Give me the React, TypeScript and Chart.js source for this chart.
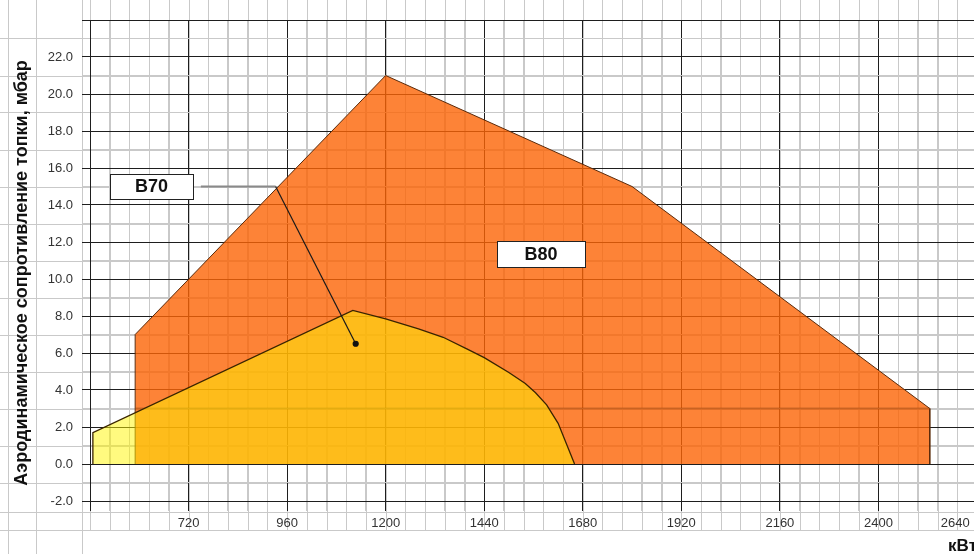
import React, { useEffect, useRef } from "react";
import { Chart, registerables } from "chart.js";

Chart.register(...registerables);

// ---- data (kW on x, mbar on y) ----
const b80X = [590, 590, 1200, 1800, 2525, 2525];
const b80Y = [0, 7.0, 21.0, 15.0, 3.0, 0];

const b70X = [487, 487, 1120, 1200, 1280, 1340, 1400, 1440, 1500, 1540, 1565, 1592, 1620, 1660];
const b70Y = [0, 1.7, 8.3, 7.85, 7.3, 6.85, 6.2, 5.75, 4.95, 4.35, 3.85, 3.2, 2.2, 0];

const minLineX = [590, 2525];
const minLineY = [3.0, 3.0];

const leaderX = [750, 932];
const leaderY = [15.0, 15.0];
const pointerX = [932, 1127];
const pointerY = [15.0, 6.5];

const labelTexts = ["B70", "B80"];
const labelX = [630, 1578];
const labelY = [15.0, 11.35];

const xMin = 480;
const xMax = 2640;
const xMinorStep = 48;
const xMajorStep = 240;
const yMin = -2;
const yMax = 24;
const yStep = 1;

const yTitle = "Аэродинамическое сопротивление топки, мбар";
const xTitle = "кВт";

// ---- styles ----
const DARK = "#1e1e1e";
const LIGHT = "#c9c9c9";
const FONT = "'Liberation Sans', Arial, sans-serif";
const BOX_W = [83, 88];
const BOX_H = [25, 26];

const pts = (xs: number[], ys: number[]) => xs.map((x, i) => ({ x, y: ys[i] }));
const isMajorX = (v: number) => Math.abs(v % xMajorStep) < 1e-6;

const paperPlugin = {
  id: "paper",
  beforeDraw(chart: any) {
    const { ctx, chartArea: a, scales, width, height } = chart;
    const x = scales.x;
    const y = scales.y;
    ctx.save();
    ctx.fillStyle = "#ffffff";
    ctx.fillRect(0, 0, width, height);
    ctx.strokeStyle = LIGHT;
    ctx.lineWidth = 1;
    ctx.beginPath();
    for (let v = xMin; v <= xMax; v += xMinorStep) {
      const px = Math.round(x.getPixelForValue(v)) + 0.5;
      ctx.moveTo(px, 0);
      ctx.lineTo(px, a.bottom + 29);
    }
    for (let v = yMin + 1; v < yMax; v += 2) {
      const py = Math.round(y.getPixelForValue(v)) + 0.5;
      ctx.moveTo(0, py);
      ctx.lineTo(width, py);
    }
    [11, 29].forEach((d) => {
      const py = Math.round(a.bottom + d) + 0.5;
      ctx.moveTo(0, py);
      ctx.lineTo(width, py);
    });
    [8, 54, 82].forEach((d) => {
      const px = Math.round(a.left - d) + 0.5;
      ctx.moveTo(px, 0);
      ctx.lineTo(px, height);
    });
    ctx.stroke();
    ctx.restore();
  },
};

const boxPlugin = {
  id: "boxes",
  afterDatasetsDraw(chart: any) {
    const { ctx, scales } = chart;
    ctx.save();
    labelTexts.forEach((t, i) => {
      const cx = scales.x.getPixelForValue(labelX[i]);
      const cy = scales.y.getPixelForValue(labelY[i]);
      const w = BOX_W[i];
      const h = BOX_H[i];
      const l = Math.round(cx - w / 2) + 0.5;
      const tp = Math.round(cy - h / 2) + 0.5;
      ctx.fillStyle = "#ffffff";
      ctx.fillRect(l, tp, w, h);
      ctx.strokeStyle = "#222";
      ctx.lineWidth = 1;
      ctx.strokeRect(l, tp, w, h);
      ctx.fillStyle = "#111";
      ctx.font = `bold 18px ${FONT}`;
      ctx.textAlign = "center";
      ctx.textBaseline = "middle";
      ctx.fillText(t, cx, cy + 1);
    });
    ctx.restore();
  },
};

export default function App() {
  const ref = useRef<HTMLCanvasElement | null>(null);

  useEffect(() => {
    if (!ref.current) return;
    const chart = new Chart(ref.current, {
      type: "line",
      data: {
        datasets: [
          {
            label: "pointer",
            data: pts(pointerX, pointerY),
            borderColor: "#1a1a1a",
            borderWidth: 1.2,
            pointRadius: [0, 2.5],
            pointBackgroundColor: "#111",
            pointBorderColor: "#111",
            fill: false,
            order: 0,
          },
          {
            label: "leader",
            data: pts(leaderX, leaderY),
            borderColor: "#8a8a8a",
            borderWidth: 2,
            pointRadius: 0,
            fill: false,
            order: 0,
          },
          {
            label: "B70",
            data: pts(b70X, b70Y),
            borderColor: "#3a2400",
            borderWidth: 1.3,
            backgroundColor: "rgba(255,245,0,0.5)",
            pointRadius: 0,
            fill: "origin",
            tension: 0,
            order: 1,
          },
          {
            label: "min",
            data: pts(minLineX, minLineY),
            borderColor: "rgba(150,70,20,0.45)",
            borderWidth: 2,
            pointRadius: 0,
            fill: false,
            order: 2,
          },
          {
            label: "B80",
            data: pts(b80X, b80Y),
            borderColor: "#5b2a0a",
            borderWidth: 1,
            backgroundColor: "rgba(252,100,5,0.8)",
            pointRadius: 0,
            fill: "origin",
            tension: 0,
            order: 3,
          },
        ],
      },
      options: {
        responsive: true,
        maintainAspectRatio: false,
        animation: false,
        layout: { padding: { top: 20, right: 13, left: 0, bottom: 0 } },
        plugins: {
          legend: { display: false },
          tooltip: { enabled: false },
        },
        scales: {
          x: {
            type: "linear",
            min: xMin,
            max: xMax,
            afterFit: (s: any) => {
              s.height = 53;
              s.paddingLeft = 0;
              s.paddingRight = 0;
            },
            grid: {
              color: (c: any) => (c.tick && isMajorX(c.tick.value) ? DARK : LIGHT),
              tickColor: (c: any) => (c.tick && isMajorX(c.tick.value) ? DARK : LIGHT),
              tickLength: 10,
              lineWidth: 1,
            },
            border: { color: DARK, width: 1 },
            ticks: {
              stepSize: xMinorStep,
              autoSkip: false,
              maxRotation: 0,
              minRotation: 0,
              maxTicksLimit: 1000,
              padding: 5,
              color: "#333",
              font: { family: FONT, size: 13 },
              callback: (v: any) => {
                const n = Number(v);
                if (!isMajorX(n) || n <= xMin) return "";
                return n === xMax ? String(n) + "            " : String(n);
              },
            },
            title: {
              display: true,
              text: xTitle,
              align: "end",
              color: "#111",
              font: { family: FONT, size: 17, weight: "bold" },
              padding: { top: 0, bottom: -3 },
            },
          },
          y: {
            type: "linear",
            min: yMin,
            max: yMax,
            afterFit: (s: any) => {
              s.width = 90;
              s.paddingTop = 0;
              s.paddingBottom = 0;
            },
            grid: {
              color: (c: any) => (c.tick && c.tick.value % 2 === 0 ? DARK : LIGHT),
              tickColor: (c: any) => (c.tick && c.tick.value % 2 === 0 ? DARK : LIGHT),
              tickLength: 8,
              lineWidth: 1,
            },
            border: { color: DARK, width: 1 },
            ticks: {
              stepSize: yStep,
              autoSkip: false,
              maxTicksLimit: 1000,
              padding: 9,
              color: "#333",
              font: { family: FONT, size: 13 },
              callback: (v: any) => {
                const n = Number(v);
                return n % 2 === 0 && n < yMax ? n.toFixed(1) : "";
              },
            },
            title: {
              display: true,
              text: yTitle + "     ",
              color: "#111",
              font: { family: FONT, size: 18, weight: "bold" },
              padding: { top: 11, bottom: 0 },
            },
          },
        },
      },
      plugins: [paperPlugin, boxPlugin],
    });
    return () => chart.destroy();
  }, []);

  return (
    <div style={{ position: "fixed", left: 0, top: 0, width: 974, height: 554, overflow: "hidden", background: "#fff" }}>
      <div style={{ position: "relative", width: 990, height: 554 }}>
        <canvas ref={ref} />
      </div>
    </div>
  );
}
